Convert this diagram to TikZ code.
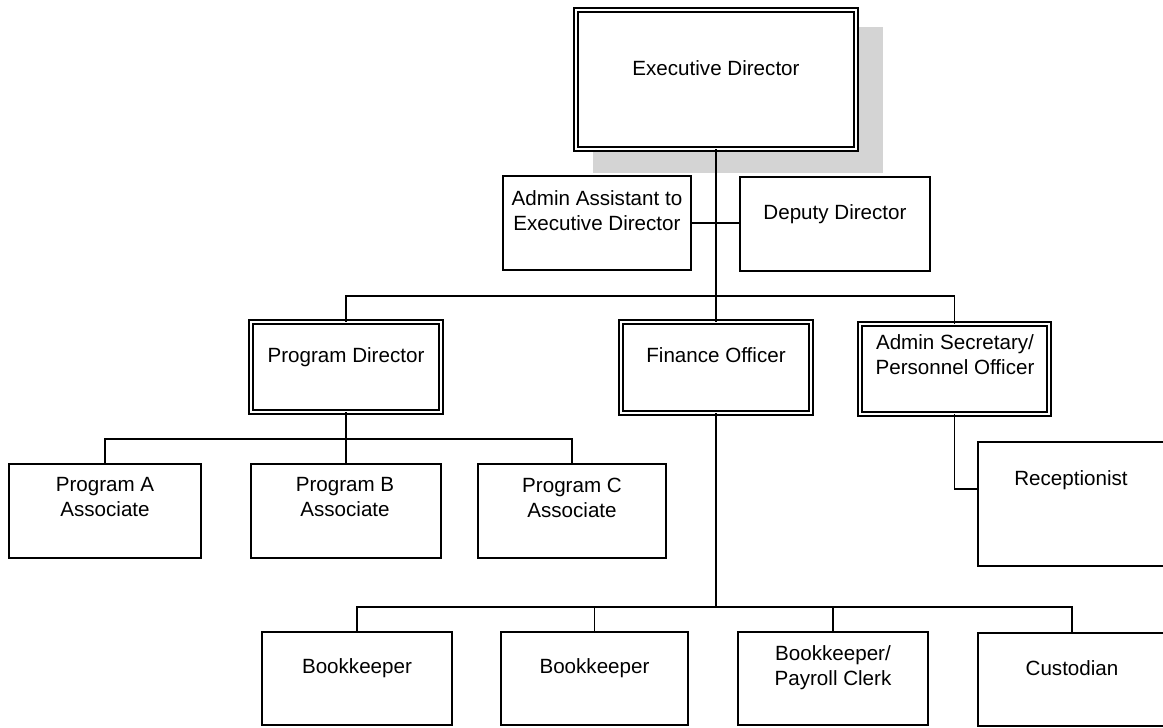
\documentclass[tikz,border=0pt]{standalone}
\usepackage{fontspec}
\setmainfont{Liberation Sans}
\begin{document}
\begin{tikzpicture}[x=1pt,y=-1pt,
  box/.style={draw=black, line width=1.9pt, fill=white, rectangle, inner sep=0pt, outer sep=0pt},
  dbox/.style={draw=black, line width=1.6pt, double=white, double distance=2.6pt, fill=white, rectangle, inner sep=0pt, outer sep=0pt},
  txt/.style={font=\fontsize{20.6}{25}\selectfont, align=center, inner sep=0pt},
  one/.style={txt, text height=15pt, text depth=0pt},
  conn/.style={draw=black, line width=1.5pt},
  shadowfill/.style={fill=black!17, draw=none}]
\useasboundingbox (0,0) rectangle (1163,728);
\clip (0,0) rectangle (1163,728);
\fill[white] (0,0) rectangle (1163,728);

% shadow of the top box
\fill[shadowfill] (593,27) rectangle (883,173);

% boxes
\node[dbox, minimum width=280.2pt, minimum height=139.2pt] (exec) at (716,79.5) {};
\node[box, minimum width=188pt, minimum height=94pt] (aa) at (597,223) {};
\node[box, minimum width=190pt, minimum height=94pt] (dd) at (835,224) {};
\node[dbox, minimum width=190.2pt, minimum height=90.2pt] (pd) at (346,367) {};
\node[dbox, minimum width=190.2pt, minimum height=91.2pt] (fin) at (716,367.5) {};
\node[dbox, minimum width=189.2pt, minimum height=90.2pt] (as) at (954.5,369) {};
\node[box, minimum width=186pt, minimum height=124pt] (rec) at (1071,504) {};
\node[box, minimum width=192pt, minimum height=94pt] (pa) at (105,511) {};
\node[box, minimum width=190pt, minimum height=94pt] (pb) at (346,511) {};
\node[box, minimum width=188pt, minimum height=94pt] (pc) at (572,511) {};
\node[box, minimum width=190pt, minimum height=93pt] (bk1) at (357,678.5) {};
\node[box, minimum width=187pt, minimum height=93pt] (bk2) at (594.5,678.5) {};
\node[box, minimum width=190pt, minimum height=93pt] (bk3) at (833,678.5) {};
\node[box, minimum width=188pt, minimum height=93pt] (cus) at (1072,679.5) {};

% connectors
\coordinate (j1) at (716,296);
\coordinate (j2) at (346,439);
\coordinate (j3) at (716,607);
\draw[conn] (exec.south) -- (fin.north);
\draw[conn] (aa.east) -- (aa.east -| dd.west);
\draw[conn] (pd.north) |- (j1) -| (as.north);
\draw[conn] (pd.south) -- (pb.north);
\draw[conn] (pa.north) |- (j2) -| (pc.north);
\draw[conn] (as.south) |- ([yshift=-47pt]rec.north west);
\draw[conn] (fin.south) -- (j3);
\draw[conn] (bk1.north) |- (j3) -| (cus.north);
\draw[conn] (j3) -| (bk2.north);
\draw[conn] (j3) -| (bk3.north);

% texts
\node[one] (texec) at (716,68) {Executive Director};
\node[txt] (taa) at (597,210.5) {Admin Assistant to\\Executive Director};
\node[one] (tdd) at (835,212) {Deputy Director};
\node[one] (tpd) at (346,355) {Program Director};
\node[one] (tfin) at (716,355) {Finance Officer};
\node[txt] (tas) at (955,355) {Admin Secretary/\\Personnel Officer};
\node[one] (trec) at (1071,478) {Receptionist};
\node[txt] (tpa) at (105,497.5) {Program A\\Associate};
\node[txt] (tpb) at (345,497.5) {Program B\\Associate};
\node[txt] (tpc) at (572,497.5) {Program C\\Associate};
\node[one] (tbk1) at (357,666) {Bookkeeper};
\node[one] (tbk2) at (594.5,666) {Bookkeeper};
\node[txt] (tbk3) at (833,667.5) {Bookkeeper/\\Payroll Clerk};
\node[one] (tcus) at (1072,668) {Custodian};
\end{tikzpicture}
\end{document}
